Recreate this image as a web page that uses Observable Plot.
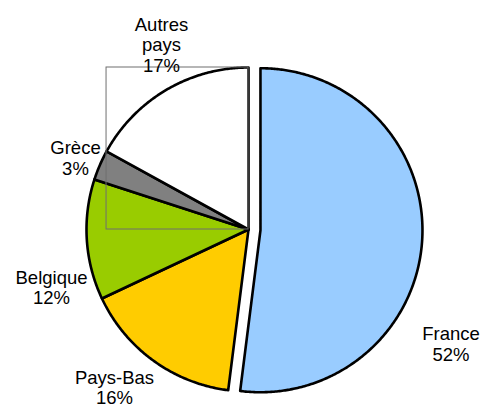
<!DOCTYPE html>
<html>
<head>
<meta charset="utf-8">
<script src="https://cdn.jsdelivr.net/npm/d3@7"></script>
<script src="https://cdn.jsdelivr.net/npm/@observablehq/plot@0.6"></script>
<style>
html,body{margin:0;padding:0;background:#fff;}
</style>
</head>
<body>
<div id="chart"></div>
<script>
// Data
const categories = ["France", "Pays-Bas", "Belgique", "Grèce", "Autres\npays"];
const shares = [52, 16, 12, 3, 17];
const colors = ["#99ccff", "#ffcc00", "#99cc00", "#808080", "#ffffff"];
const exploded = [true, false, false, false, false];

// Layout (radius units, relative to pie centre)
const labelPos = [
  [1.250, -0.705],
  [-0.827, -0.974],
  [-1.216, -0.357],
  [-1.068, 0.443],
  [-0.537, 1.140]
];
const explodeDist = 0.074;

const W = 481, H = 405, cx = 248, cy = 229, R = 162;

const total = d3.sum(shares);
let acc = 0;
const slices = categories.map((c, i) => {
  const a0 = acc / total * 2 * Math.PI;
  acc += shares[i];
  const a1 = acc / total * 2 * Math.PI;
  const mid = (a0 + a1) / 2;
  const ox = exploded[i] ? explodeDist * Math.sin(mid) : 0;
  const oy = exploded[i] ? explodeDist * Math.cos(mid) : 0;
  return {name: c, share: shares[i], color: colors[i], a0, a1, ox, oy, i};
});

const pts = [];
for (const s of slices) {
  pts.push({name: s.name, color: s.color, x: s.ox, y: s.oy, i: s.i});
  const n = Math.max(2, Math.ceil((s.a1 - s.a0) / (Math.PI / 360)));
  for (let k = 0; k <= n; k++) {
    const a = s.a0 + (s.a1 - s.a0) * k / n;
    pts.push({name: s.name, color: s.color, x: s.ox + Math.sin(a), y: s.oy + Math.cos(a), i: s.i});
  }
  pts.push({name: s.name, color: s.color, x: s.ox, y: s.oy, i: s.i});
}
// draw non-exploded first, exploded last
const order = slices.map(s => s.i).sort((a, b) => (exploded[a] - exploded[b]) || (a - b));
const ordered = order.flatMap(i => pts.filter(p => p.i === i));

// bounding box of the last slice (placeholder frame)
const lastPts = pts.filter(p => p.i === slices.length - 1);
const box = [{
  x1: d3.min(lastPts, p => p.x), x2: d3.max(lastPts, p => p.x),
  y1: d3.min(lastPts, p => p.y), y2: d3.max(lastPts, p => p.y)
}];

const labels = slices.map((s, i) => ({
  text: s.name + "\n" + s.share + "%",
  x: labelPos[i][0], y: labelPos[i][1]
}));

const chart = Plot.plot({
  width: W,
  height: H,
  margin: 0,
  x: {domain: [-cx / R, (W - cx) / R], range: [0, W], axis: null},
  y: {domain: [-(H - cy) / R, cy / R], range: [H, 0], axis: null},
  color: {type: "identity"},
  style: {fontFamily: "'Liberation Sans', Arial, sans-serif", background: "#fff"},
  marks: [
    Plot.line(ordered, {x: "x", y: "y", z: "name", fill: "color", stroke: "#000",
      strokeWidth: 2.6, strokeLinejoin: "round", curve: "linear"}),
    Plot.rect(box, {x1: "x1", x2: "x2", y1: "y1", y2: "y2", fill: "none", stroke: "#6f6f6f", strokeWidth: 1}),
    Plot.text(labels, {x: "x", y: "y", text: "text", fontSize: 18.5, lineHeight: 1.12,
      lineAnchor: "middle", textAnchor: "middle", fill: "#000"})
  ]
});
document.getElementById("chart").appendChild(chart);
</script>
</body>
</html>
